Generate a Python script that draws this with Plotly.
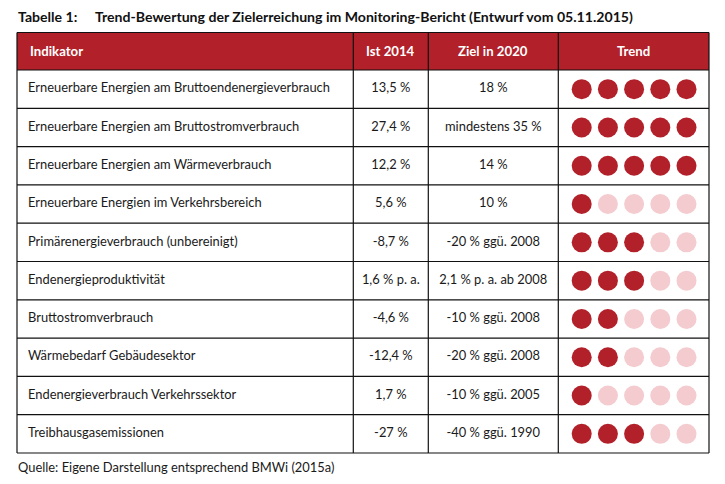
import plotly.graph_objects as go

# ---- data ----
indikatoren = [
    "Erneuerbare Energien am Bruttoendenergieverbrauch",
    "Erneuerbare Energien am Bruttostromverbrauch",
    "Erneuerbare Energien am Wärmeverbrauch",
    "Erneuerbare Energien im Verkehrsbereich",
    "Primärenergieverbrauch (unbereinigt)",
    "Endenergieproduktivität",
    "Bruttostromverbrauch",
    "Wärmebedarf Gebäudesektor",
    "Endenergieverbrauch Verkehrssektor",
    "Treibhausgasemissionen",
]
ist_2014 = ["13,5 %", "27,4 %", "12,2 %", "5,6 %", "-8,7 %", "1,6 % p. a.",
            "-4,6 %", "-12,4 %", "1,7 %", "-27 %"]
ziel_2020 = ["18 %", "mindestens 35 %", "14 %", "10 %", "-20 % ggü. 2008",
             "2,1 % p. a. ab 2008", "-10 % ggü. 2008", "-20 % ggü. 2008",
             "-10 % ggü. 2005", "-40 % ggü. 1990"]
trend = [5, 5, 5, 1, 3, 3, 2, 2, 1, 3]
headers = ["Indikator", "Ist 2014", "Ziel in 2020", "Trend"]
title_label = "Tabelle 1:"
title_text = "Trend-Bewertung der Zielerreichung im Monitoring-Bericht (Entwurf vom 05.11.2015)"
source_text = "Quelle: Eigene Darstellung entsprechend BMWi (2015a)"

# ---- layout constants ----
W, H = 725, 484
OFF = 8  # page body margin
col_edges = [17, 353.3, 428.3, 558.3, 709]
head_top, head_bot = 32.5, 70
row_h = 38.3
n = len(indikatoren)
table_bot = head_bot + row_h * n
dot_x0, dot_dx = 581.7, 26.2
RED = "#B2202A"
LIGHT = "#F4CBCE"
FONT = "Lato, 'Open Sans', sans-serif"
TS = 12.9

fig = go.Figure()

# header background
fig.add_shape(type="rect", x0=col_edges[0], x1=col_edges[-1], y0=head_top, y1=head_bot,
              fillcolor=RED, line_width=0, layer="below")

# horizontal lines
ys = [head_top, head_bot] + [head_bot + row_h * (i + 1) for i in range(n)]
for y in ys:
    fig.add_shape(type="line", x0=col_edges[0], x1=col_edges[-1], y0=y, y1=y,
                  line=dict(color="#111111", width=1.2))
# vertical lines
for x in col_edges:
    fig.add_shape(type="line", x0=x, x1=x, y0=head_top, y1=table_bot,
                  line=dict(color="#111111", width=1.2))

centers_y = [head_bot + row_h * (i + 0.5) for i in range(n)]
col_c = [(col_edges[i] + col_edges[i + 1]) / 2 for i in range(4)]

# header texts
head_y = (head_top + head_bot) / 2
fig.add_annotation(x=col_edges[0] + 11, y=head_y, text="<b>" + headers[0] + "</b>",
                   xanchor="left", showarrow=False, font=dict(color="white", size=13.2, family=FONT))
for i in range(1, 4):
    fig.add_annotation(x=col_c[i], y=head_y, text="<b>" + headers[i] + "</b>",
                       xanchor="center", showarrow=False,
                       font=dict(color="white", size=13.2, family=FONT))

# row texts
txtfont = dict(color="#1a1a1a", size=TS, family=FONT)
fig.add_trace(go.Scatter(x=[col_edges[0] + 11] * n, y=centers_y, text=indikatoren,
                         mode="text", textposition="middle right", textfont=txtfont,
                         hoverinfo="skip", showlegend=False))
fig.add_trace(go.Scatter(x=[col_c[1]] * n, y=centers_y, text=ist_2014,
                         mode="text", textposition="middle center", textfont=txtfont,
                         hoverinfo="skip", showlegend=False))
fig.add_trace(go.Scatter(x=[col_c[2]] * n, y=centers_y, text=ziel_2020,
                         mode="text", textposition="middle center", textfont=txtfont,
                         hoverinfo="skip", showlegend=False))

# trend dots
dx, dy, dc = [], [], []
for i, t in enumerate(trend):
    for k in range(5):
        dx.append(dot_x0 + dot_dx * k)
        dy.append(centers_y[i])
        dc.append(RED if k < t else LIGHT)
fig.add_trace(go.Scatter(x=dx, y=dy, mode="markers",
                         marker=dict(size=20, color=dc, line_width=0),
                         hoverinfo="skip", showlegend=False))

# title & source
fig.add_annotation(x=16, y=16, text="<b>" + title_label + "</b>", xanchor="left",
                   showarrow=False, font=dict(color="#111111", size=14.1, family=FONT))
fig.add_annotation(x=93, y=16, text="<b>" + title_text + "</b>", xanchor="left",
                   showarrow=False, font=dict(color="#111111", size=14.1, family=FONT))
fig.add_annotation(x=16, y=467, text=source_text, xanchor="left",
                   showarrow=False, font=dict(color="#1a1a1a", size=TS, family=FONT))

fig.update_layout(
    width=W - OFF, height=H - OFF, margin=dict(l=0, r=0, t=0, b=0),
    paper_bgcolor="white", plot_bgcolor="white",
    xaxis=dict(range=[OFF, W], visible=False, fixedrange=True),
    yaxis=dict(range=[H, OFF], visible=False, fixedrange=True),
)
fig.write_html("out.html")
